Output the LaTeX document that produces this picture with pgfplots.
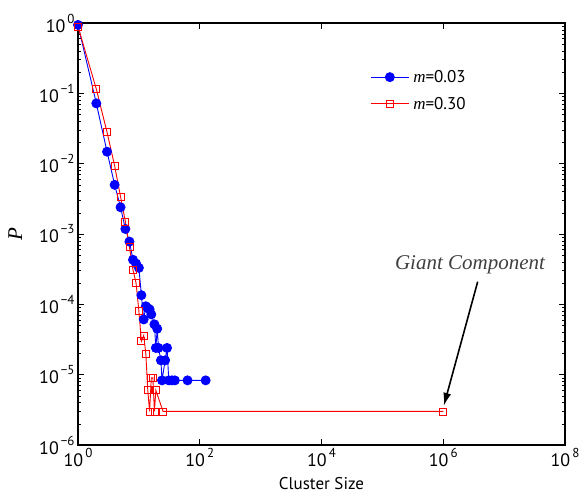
\documentclass[border=0pt]{standalone}
\usepackage{fontspec}
\setmainfont{PT Sans}
\newfontfamily\serifit{Liberation Serif}
\usepackage{pgfplots}
\pgfplotsset{compat=1.18}
\usetikzlibrary{arrows.meta}
\newcommand{\tl}[1]{10\kern2pt\raisebox{9pt}{\fontsize{13}{13}\selectfont #1}}
\begin{document}
\begin{tikzpicture}
\useasboundingbox (-78pt,-50pt) rectangle (502pt,445pt);
\begin{axis}[
  at={(0pt,0pt)}, anchor=south west,
  scale only axis, width=487pt, height=422pt,
  xmode=log, ymode=log,
  xmin=1, xmax=1e8, ymin=1e-6, ymax=1,
  xtick={1,1e2,1e4,1e6,1e8},
  xticklabels={\tl{0},\tl{2},\tl{4},\tl{6},\tl{8}},
  xminorticks=false,
  ytick={1e-6,1e-5,1e-4,1e-3,1e-2,1e-1,1},
  yticklabels={\tl{−6},\tl{−5},\tl{−4},\tl{−3},\tl{−2},\tl{−1},\tl{0}},
  ticklabel style={font=\fontsize{18}{20}\selectfont},
  tick align=inside,
  major tick length=6pt, minor tick length=3pt,
  axis line style={line width=1.2pt},
  every tick/.style={black, line width=0.6pt},
  every axis x label/.style={at={(axis description cs:0.5,0)}, anchor=base, yshift=-44pt},
  every axis y label/.style={at={(axis description cs:-0.129,0.5)}, rotate=90, anchor=center},
  xlabel={\fontsize{17}{20}\selectfont Cluster Size},
  ylabel={\fontsize{21}{24}\selectfont\serifit\itshape P},
  legend style={draw=none, fill=none, at={(rel axis cs:0.60,0.893)}, anchor=north west,
    font=\fontsize{17}{20}\selectfont, row sep=9pt, inner sep=0pt,
    nodes={inner xsep=4pt}},
  legend cell align=left,
  legend image code/.code={\draw[mark repeat=2,mark phase=2,#1] plot coordinates {(0pt,0pt)(19pt,0pt)(38pt,0pt)};},
]
\addplot[color=blue, line width=0.9pt, mark=*, mark size=4.5pt, mark options={fill=blue, draw=blue}] coordinates {
(1,0.94) (2,0.072) (3,0.0148) (4,0.0050) (5,0.0024) (6,0.00118) (7,7.8e-4)
(8,4.3e-4) (9,3.8e-4) (10,3.3e-4) (11,1.35e-4) (12,6.1e-5) (13,9.4e-5)
(14,8.8e-5) (15,8.5e-5) (16,7.2e-5) (18,5.2e-5) (19,2.4e-5) (20,4.5e-5)
(21,2.4e-5) (23,1.6e-5) (24,8.3e-6) (27,1.6e-5) (29,2.4e-5) (31,8.3e-6)
(35,8.3e-6) (39,8.3e-6) (63,8.3e-6) (125,8.3e-6)
};
\addlegendentry{{\serifit\itshape m}=0.03}
\addplot[color=red, line width=0.9pt, mark=square, mark size=3.5pt, mark options={draw=red, line width=0.8pt}] coordinates {
(1,0.89) (2,0.115) (3,0.028) (4,0.0093) (5,0.0034) (6,0.0015) (7,6.5e-4)
(8,3.1e-4) (9,2.0e-4) (10,8.0e-5) (11,3.0e-5) (12,3.6e-5) (13,2.0e-5)
(14,6.0e-6) (15,3.0e-6) (16,9.0e-6) (17,9.0e-6) (18,3.0e-6) (19,6.0e-6)
(25,3.0e-6) (1000000,3.0e-6)
};
\addlegendentry{{\serifit\itshape m}=0.30}
\draw[-{Latex[length=13pt,width=8pt]}, line width=1.6pt] (axis cs:3.68e6,2.1e-4) -- (axis cs:1.02e6,3.6e-6);
\node[text=black!75, font=\fontsize{21}{24}\selectfont\serifit\itshape] at (axis cs:2.75e6,3.6e-4) {Giant Component};
\end{axis}
\end{tikzpicture}
\end{document}
